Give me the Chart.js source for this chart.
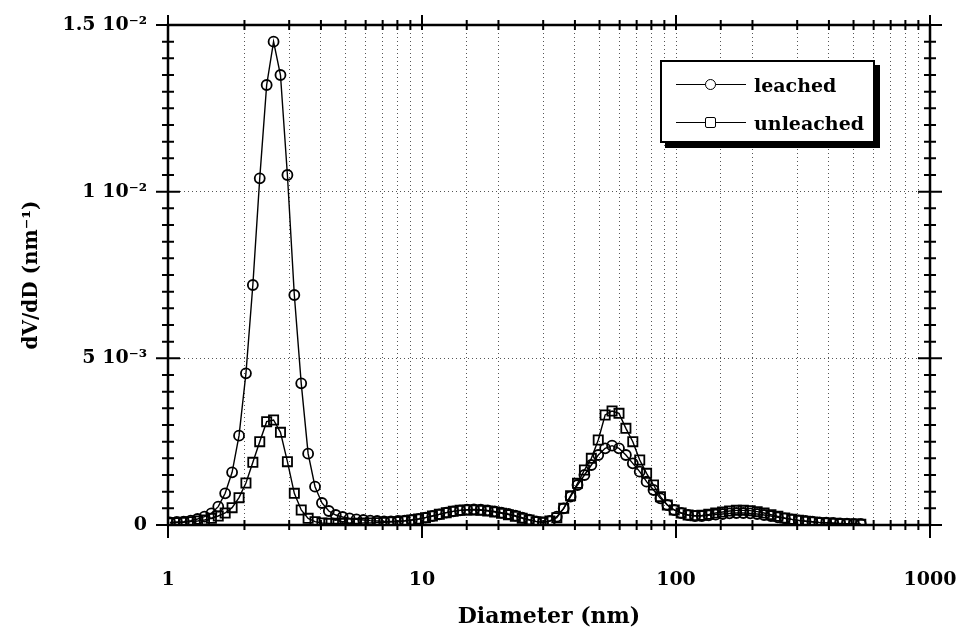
<!DOCTYPE html>
<html>
<head>
<meta charset="utf-8">
<script src="https://cdn.jsdelivr.net/npm/chart.js@4"></script>
<style>
  body { margin: 0; background: #fff; }
  #wrap { position: relative; width: 963px; height: 630px; }
  #legend {
    position: absolute; left: 660px; top: 60px; width: 215px; height: 83px;
    box-sizing: border-box; border: 2px solid #000; box-shadow: 5px 5px 0 #000;
    background: #fff; font: bold 19px 'DejaVu Serif', serif; color: #000;
  }
  .row { position: absolute; left: 14px; height: 22px; display: flex; align-items: center; }
  .sample { position: relative; width: 70px; height: 22px; margin-right: 8px; }
  .sample .ln { position: absolute; left: 0; right: 0; top: 10px; border-top: 1.5px solid #000; }
  .sample .mk { position: absolute; left: 29px; top: 5px; width: 9px; height: 9px; border: 1.8px solid #000; background: #fff; }
  .sample .mk.circle { border-radius: 50%; }
  .sample .mk.rect { border-radius: 2px; }
</style>
</head>
<body>
<div id="wrap">
  <canvas id="chart"></canvas>
  <div id="legend"></div>
</div>
<script>
// diameter in nm (log spaced)
const diameters = [
  1.017, 1.083, 1.153, 1.228, 1.307, 1.392, 1.482, 1.577, 1.679, 1.788,
  1.904, 2.027, 2.158, 2.297, 2.446, 2.604, 2.772, 2.952, 3.143, 3.346,
  3.562, 3.792, 4.037, 4.297, 4.575, 4.870, 5.185, 5.520, 5.876, 6.256,
  6.660, 7.090, 7.548, 8.036, 8.555, 9.108, 9.696, 10.32, 10.99, 11.70,
  12.46, 13.27, 14.12, 15.04, 16.01, 17.04, 18.14, 19.31, 20.56, 21.89,
  23.31, 24.81, 26.42, 28.13, 29.94, 31.88, 33.94, 36.13, 38.46, 40.95,
  43.60, 46.42, 49.42, 52.61, 56.01, 59.64, 63.49, 67.60, 71.97, 76.60,
  81.56, 86.83, 92.45, 98.42, 104.8, 111.6, 118.8, 126.4, 134.6, 143.3,
  152.5, 162.5, 172.9, 184.1, 196.0, 208.7, 222.2, 236.5, 251.8, 268.1,
  285.4, 303.8, 323.5, 344.4, 366.7, 390.4, 415.6, 442.5, 471.1, 501.5,
  534.0
];

// dV/dD in nm^-1
const leached = [
  0.08e-3, 0.09e-3, 0.10e-3, 0.13e-3, 0.18e-3, 0.25e-3, 0.35e-3, 0.55e-3, 0.95e-3, 1.58e-3,
  2.68e-3, 4.55e-3, 7.2e-3, 10.4e-3, 13.2e-3, 14.5e-3, 13.5e-3, 10.5e-3, 6.9e-3, 4.25e-3,
  2.14e-3, 1.15e-3, 0.66e-3, 0.42e-3, 0.30e-3, 0.24e-3, 0.20e-3, 0.17e-3, 0.15e-3, 0.13e-3,
  0.12e-3, 0.11e-3, 0.11e-3, 0.12e-3, 0.13e-3, 0.15e-3, 0.18e-3, 0.22e-3, 0.27e-3, 0.32e-3,
  0.37e-3, 0.41e-3, 0.44e-3, 0.46e-3, 0.47e-3, 0.46e-3, 0.44e-3, 0.41e-3, 0.37e-3, 0.33e-3,
  0.28e-3, 0.22e-3, 0.16e-3, 0.11e-3, 0.08e-3, 0.12e-3, 0.25e-3, 0.50e-3, 0.85e-3, 1.20e-3,
  1.50e-3, 1.80e-3, 2.10e-3, 2.30e-3, 2.38e-3, 2.30e-3, 2.10e-3, 1.85e-3, 1.60e-3, 1.30e-3,
  1.05e-3, 0.80e-3, 0.60e-3, 0.45e-3, 0.36e-3, 0.30e-3, 0.27e-3, 0.27e-3, 0.29e-3, 0.31e-3,
  0.33e-3, 0.35e-3, 0.36e-3, 0.36e-3, 0.35e-3, 0.33e-3, 0.30e-3, 0.27e-3, 0.23e-3, 0.20e-3,
  0.17e-3, 0.14e-3, 0.12e-3, 0.10e-3, 0.08e-3, 0.07e-3, 0.06e-3, 0.05e-3, 0.04e-3, 0.03e-3,
  0.03e-3
];

const unleached = [
  0.06e-3, 0.07e-3, 0.08e-3, 0.10e-3, 0.12e-3, 0.15e-3, 0.20e-3, 0.27e-3, 0.36e-3, 0.52e-3,
  0.82e-3, 1.26e-3, 1.88e-3, 2.50e-3, 3.10e-3, 3.15e-3, 2.78e-3, 1.90e-3, 0.95e-3, 0.45e-3,
  0.20e-3, 0.10e-3, 0.06e-3, 0.05e-3, 0.05e-3, 0.05e-3, 0.05e-3, 0.05e-3, 0.06e-3, 0.06e-3,
  0.07e-3, 0.08e-3, 0.09e-3, 0.10e-3, 0.12e-3, 0.15e-3, 0.18e-3, 0.22e-3, 0.27e-3, 0.32e-3,
  0.37e-3, 0.41e-3, 0.44e-3, 0.45e-3, 0.45e-3, 0.44e-3, 0.42e-3, 0.39e-3, 0.35e-3, 0.31e-3,
  0.26e-3, 0.20e-3, 0.15e-3, 0.10e-3, 0.08e-3, 0.12e-3, 0.22e-3, 0.50e-3, 0.88e-3, 1.25e-3,
  1.65e-3, 2.00e-3, 2.55e-3, 3.30e-3, 3.42e-3, 3.35e-3, 2.90e-3, 2.50e-3, 1.95e-3, 1.55e-3,
  1.20e-3, 0.85e-3, 0.60e-3, 0.45e-3, 0.36e-3, 0.30e-3, 0.28e-3, 0.29e-3, 0.32e-3, 0.36e-3,
  0.39e-3, 0.42e-3, 0.44e-3, 0.44e-3, 0.43e-3, 0.40e-3, 0.36e-3, 0.31e-3, 0.26e-3, 0.21e-3,
  0.17e-3, 0.14e-3, 0.11e-3, 0.09e-3, 0.07e-3, 0.06e-3, 0.05e-3, 0.04e-3, 0.03e-3, 0.03e-3,
  0.02e-3
];

const seriesNames = ["leached", "unleached"];
const seriesMarkers = ["circle", "rect"];

const xTickValues = [1, 10, 100, 1000];
const yTickValues = [0, 5e-3, 1e-2, 1.5e-2];
const yTickLabels = ["0", "5 10\u207B\u00B3", "1 10\u207B\u00B2", "1.5 10\u207B\u00B2"];

const FONT = "'DejaVu Serif', serif";

function isYMajor(v) {
  return yTickValues.some(t => Math.abs(t - v) < 1e-9);
}

// ticks crossing the frame on all four sides, plus the frame itself
const frameTicks = {
  id: "frameTicks",
  afterDraw(chart) {
    const { ctx, chartArea: a, scales: { x, y } } = chart;
    ctx.save();
    ctx.strokeStyle = "#000";
    ctx.lineWidth = 2;
    ctx.beginPath();
    y.ticks.forEach(t => {
      const py = y.getPixelForValue(t.value);
      const len = isYMajor(t.value) ? 12 : 6;
      ctx.moveTo(a.left - len, py); ctx.lineTo(a.left + len, py);
      ctx.moveTo(a.right - len, py); ctx.lineTo(a.right + len, py);
    });
    x.ticks.forEach(t => {
      const px = x.getPixelForValue(t.value);
      const major = xTickValues.includes(t.value);
      ctx.moveTo(px, a.bottom - 5); ctx.lineTo(px, a.bottom + (major ? 13 : 5));
      ctx.moveTo(px, a.top - (major ? 10 : 5)); ctx.lineTo(px, a.top + 5);
    });
    ctx.stroke();
    ctx.lineWidth = 2.5;
    ctx.strokeRect(a.left, a.top, a.right - a.left, a.bottom - a.top);
    ctx.restore();
  }
};

const datasets = [leached, unleached].map((vals, k) => ({
  label: seriesNames[k],
  data: diameters.map((d, i) => ({ x: d, y: vals[i] })),
  borderColor: "#000",
  borderWidth: 1.4,
  tension: 0,
  pointStyle: seriesMarkers[k],
  pointRadius: k === 0 ? 5 : 6.5,
  pointBorderWidth: 1.8,
  pointBorderColor: "#000",
  pointBackgroundColor: "rgba(0,0,0,0)"
}));

new Chart(document.getElementById("chart"), {
  type: "line",
  data: { datasets },
  options: {
    responsive: true,
    maintainAspectRatio: false,
    animation: false,
    layout: { padding: { left: 0, right: 33, top: 25, bottom: 0 } },
    plugins: { legend: { display: false }, tooltip: { enabled: false } },
    scales: {
      x: {
        type: "logarithmic",
        min: 1,
        max: 1000,
        afterFit: s => { s.height = 105; s.paddingLeft = 0; s.paddingRight = 0; },
        border: { display: false, dash: [1, 3] },
        grid: {
          drawTicks: false,
          lineWidth: 1,
          color: c => (c.tick && (c.tick.value === 1 || c.tick.value === 1000)) ? "rgba(0,0,0,0)" : "#555"
        },
        ticks: {
          autoSkip: false,
          maxRotation: 0,
          padding: 44,
          color: "#000",
          font: { family: FONT, size: 19, weight: "bold" },
          callback: v => xTickValues.includes(v) ? String(v) : ""
        },
        title: {
          display: true,
          text: "Diameter (nm)",
          color: "#000",
          padding: { top: 0, bottom: 0 },
          font: { family: FONT, size: 22, weight: "bold" }
        }
      },
      y: {
        min: 0,
        max: 0.015,
        afterFit: s => { s.width = 168; s.paddingTop = 0; s.paddingBottom = 0; },
        border: { display: false, dash: [1, 3] },
        grid: {
          drawTicks: false,
          lineWidth: 1,
          color: c => {
            if (!c.tick) return "rgba(0,0,0,0)";
            const v = c.tick.value;
            return (isYMajor(v) && v > 1e-9 && v < 0.015 - 1e-9) ? "#555" : "rgba(0,0,0,0)";
          }
        },
        ticks: {
          stepSize: 0.0005,
          maxTicksLimit: 40,
          autoSkip: false,
          padding: 21,
          color: "#000",
          font: { family: FONT, size: 19, weight: "bold" },
          callback: v => {
            const k = yTickValues.findIndex(t => Math.abs(t - v) < 1e-9);
            return k >= 0 ? yTickLabels[k] : "";
          }
        },
        title: {
          display: true,
          text: "dV/dD (nm\u207B\u00B9)",
          color: "#000",
          padding: { top: 20, bottom: 0 },
          font: { family: FONT, size: 20, weight: "bold" }
        }
      }
    }
  },
  plugins: [frameTicks]
});

// legend built from the series names
const legend = document.getElementById("legend");
seriesNames.forEach((name, k) => {
  const row = document.createElement("div");
  row.className = "row";
  row.style.top = (k === 0 ? 12 : 50) + "px";
  row.innerHTML = `<div class="sample"><div class="ln"></div><div class="mk ${seriesMarkers[k]}"></div></div><span>${name}</span>`;
  legend.appendChild(row);
});
</script>
</body>
</html>
